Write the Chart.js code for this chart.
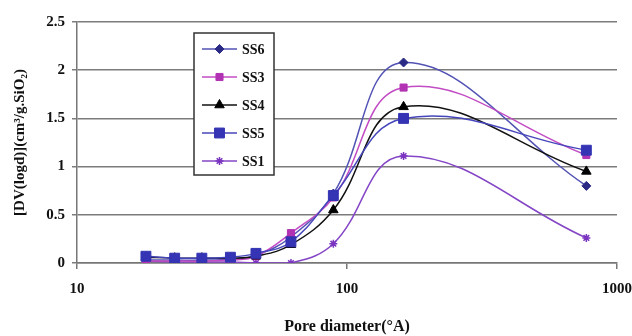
<!DOCTYPE html>
<html>
<head>
<meta charset="utf-8">
<script src="https://cdn.jsdelivr.net/npm/chart.js@4/dist/chart.umd.min.js"></script>
<style>
  html, body { margin: 0; padding: 0; background: #ffffff; }
  #wrap { width: 632px; height: 336px; position: relative; }
</style>
</head>
<body>
<div id="wrap"><canvas id="c" width="632" height="336"></canvas></div>
<script>
// Pore diameter (Å) and pore size distribution for each sample
const poreDiameter = [18, 23, 29, 37, 46, 62, 89, 162, 770];
const ss6 = [0.03, 0.03, 0.03, 0.04, 0.08, 0.27, 0.72, 2.08, 0.80];
const ss3 = [0.02, 0.02, 0.02, 0.03, 0.07, 0.31, 0.68, 1.82, 1.12];
const ss4 = [0.06, 0.05, 0.05, 0.05, 0.07, 0.19, 0.55, 1.62, 0.95];
const ss5 = [0.07, 0.05, 0.05, 0.06, 0.10, 0.22, 0.70, 1.50, 1.17];
const ss1 = [0.02, 0.01, 0.01, 0.01, 0.00, 0.00, 0.20, 1.11, 0.26];
const xTickValues = [10, 100, 1000];
const yTickValues = [0, 0.5, 1, 1.5, 2, 2.5];

const SERIF = '"Liberation Serif", "Times New Roman", serif';

function pts(ys) { return poreDiameter.map((x, i) => ({ x: x, y: ys[i] })); }

function series(label, ys, line, fill, style, radius, order) {
  return {
    label: label,
    data: pts(ys),
    borderColor: line,
    backgroundColor: fill,
    pointBackgroundColor: fill,
    pointBorderColor: fill,
    pointStyle: style,
    pointRadius: radius,
    pointHoverRadius: radius,
    pointBorderWidth: style === 'star' ? 1.5 : 1,
    borderWidth: 1.5,
    tension: 0.4,
    order: order
  };
}

const datasets = [
  series('SS6', ss6, '#5252b4', '#2b2b86', 'rectRot', 4.5, 3),
  series('SS3', ss3, '#c24cc4', '#b232b4', 'rect', 5, 2),
  series('SS4', ss4, '#111111', '#000000', 'triangle', 5.5, 1),
  series('SS5', ss5, '#4646bc', '#3434b4', 'rect', 7, 0),
  series('SS1', ss1, '#8446c6', '#7a34c0', 'star', 4, 4)
];

// Boxed legend drawn inside the plot area
const boxLegend = {
  id: 'boxLegend',
  afterDraw(chart) {
    const ctx = chart.ctx;
    const x0 = 194, y0 = 33, w = 80, h = 142;
    ctx.save();
    ctx.fillStyle = '#ffffff';
    ctx.fillRect(x0, y0, w, h);
    ctx.strokeStyle = '#333333';
    ctx.lineWidth = 1.5;
    ctx.strokeRect(x0, y0, w, h);
    chart.data.datasets.forEach((ds, i) => {
      const y = 49 + i * 28;
      ctx.strokeStyle = ds.borderColor;
      ctx.lineWidth = 1.5;
      ctx.beginPath();
      ctx.moveTo(202, y);
      ctx.lineTo(237, y);
      ctx.stroke();
      ctx.fillStyle = ds.pointBackgroundColor;
      ctx.strokeStyle = ds.pointBorderColor;
      ctx.lineWidth = ds.pointBorderWidth;
      Chart.helpers.drawPoint(ctx, {
        pointStyle: ds.pointStyle,
        radius: ds.pointRadius,
        rotation: 0,
        borderWidth: ds.pointBorderWidth
      }, 219.5, y);
      ctx.fillStyle = '#111111';
      ctx.font = 'bold 14px ' + SERIF;
      ctx.textAlign = 'left';
      ctx.textBaseline = 'middle';
      ctx.fillText(ds.label, 242, y + 1);
    });
    ctx.restore();
  }
};

new Chart(document.getElementById('c'), {
  type: 'line',
  data: { datasets: datasets },
  plugins: [boxLegend],
  options: {
    responsive: false,
    animation: false,
    layout: { padding: { left: 0, top: 22, right: 15, bottom: 0 } },
    plugins: { legend: { display: false }, tooltip: { enabled: false } },
    scales: {
      x: {
        type: 'logarithmic',
        min: 10,
        max: 1000,
        afterBuildTicks(scale) { scale.ticks = xTickValues.map(v => ({ value: v })); },
        afterFit(scale) {
          scale.height = 73;
          scale.paddingLeft = 0;
          scale.paddingRight = 0;
        },
        grid: {
          drawOnChartArea: false,
          drawTicks: true,
          tickLength: 6,
          color: '#777777',
          lineWidth: 1.5
        },
        border: { display: true, color: '#777777', width: 1.5 },
        ticks: {
          autoSkip: false,
          maxRotation: 0,
          padding: 11,
          color: '#111111',
          font: { family: SERIF, size: 15, weight: 'bold' },
          callback: v => String(v)
        },
        title: {
          display: true,
          text: 'Pore diameter(°A)',
          color: '#111111',
          font: { family: SERIF, size: 16, weight: 'bold' },
          padding: { top: 10, bottom: 0 }
        }
      },
      y: {
        min: 0,
        max: 2.5,
        afterBuildTicks(scale) { scale.ticks = yTickValues.map(v => ({ value: v })); },
        afterFit(scale) {
          scale.width = 77;
          scale.paddingTop = 0;
          scale.paddingBottom = 0;
        },
        grid: {
          color: '#7c7c7c',
          lineWidth: 1.5,
          drawTicks: true,
          tickLength: 5
        },
        border: { display: true, color: '#777777', width: 1.5 },
        ticks: {
          padding: 7,
          color: '#111111',
          font: { family: SERIF, size: 15, weight: 'bold' },
          callback: v => String(v)
        },
        title: {
          display: true,
          text: '[DV(logd)](cm³/g.SiO₂)',
          color: '#111111',
          font: { family: SERIF, size: 15, weight: 'bold' },
          padding: { top: 11, bottom: 0 }
        }
      }
    }
  }
});
</script>
</body>
</html>
